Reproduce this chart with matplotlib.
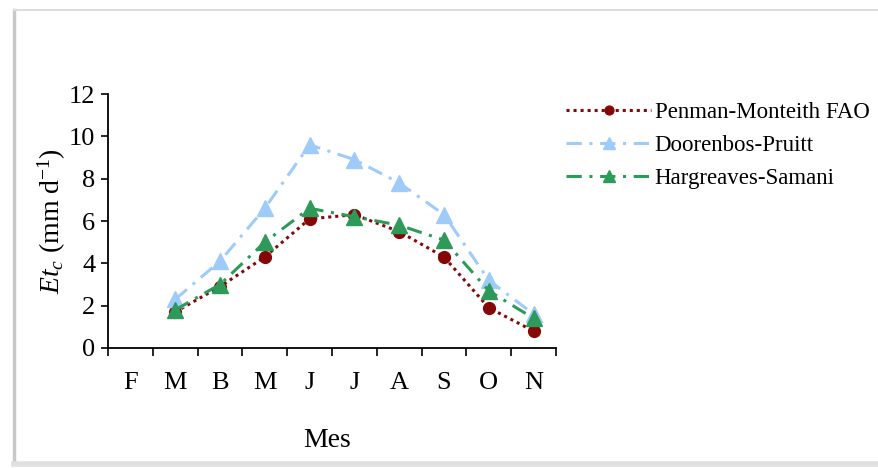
import matplotlib
matplotlib.use("Agg")
import matplotlib.pyplot as plt
from matplotlib.lines import Line2D

plt.rcParams["font.family"] = ["Liberation Serif", "DejaVu Serif"]
plt.rcParams["mathtext.fontset"] = "custom"
plt.rcParams["mathtext.rm"] = "Liberation Serif"
plt.rcParams["mathtext.it"] = "Liberation Serif:italic"

months = ["F", "M", "B", "M", "J", "J", "A", "S", "O", "N"]
data_months = [1, 2, 3, 4, 5, 6, 7, 8, 9]  # index into months (no value for F)

penman = [1.7, 2.9, 4.3, 6.1, 6.3, 5.5, 4.3, 1.9, 0.8]
doorenbos = [2.3, 4.1, 6.6, 9.6, 8.9, 7.8, 6.3, 3.2, 1.6]
hargreaves = [1.8, 3.0, 5.0, 6.6, 6.2, 5.8, 5.1, 2.7, 1.4]

fig = plt.figure(figsize=(8.79, 4.68), dpi=100)
ax = fig.add_axes([108 / 879, 1 - 348 / 468, 448 / 879, 254 / 468])

ax.plot(data_months, penman, color="#850808", ls=(0, (1, 1.3)), lw=2.2,
        marker="o", ms=8.5, label="Penman-Monteith FAO")
ax.plot(data_months, doorenbos, color="#9fcbfa", ls=(0, (5, 2.5, 1, 2.5)), lw=2.2,
        marker="^", ms=11, label="Doorenbos-Pruitt")
ax.plot(data_months, hargreaves, color="#2e9a5a", ls=(0, (5, 2.5, 1, 2.5)), lw=2.2,
        marker="^", ms=11, label="Hargreaves-Samani")

ax.set_xlim(-0.5, len(months) - 0.5)
ax.set_ylim(0, 12)
ax.set_yticks(range(0, 13, 2))
ax.set_xticks([i - 0.5 for i in range(len(months) + 1)])
ax.set_xticklabels([])
ax.set_xticks(range(len(months)), minor=True)
ax.set_xticklabels(months, minor=True)
ax.tick_params(axis="x", which="major", direction="out", length=6, width=1.2)
ax.tick_params(axis="x", which="minor", length=0, pad=17, labelsize=19)
ax.tick_params(axis="y", direction="out", length=5, width=1.2, labelsize=19, pad=4)

for s in ["top", "right"]:
    ax.spines[s].set_visible(False)
for s in ["left", "bottom"]:
    ax.spines[s].set_linewidth(1.3)

ax.set_xlabel("Mes", fontsize=20)
ax.xaxis.set_label_coords(0.49, -0.315)
ax.set_ylabel(r"$Et_c$ (mm d$^{\mathregular{-1}}$)", fontsize=20)
ax.yaxis.set_label_coords(-0.09, 0.5)

ax.legend(loc="upper left", bbox_to_anchor=(555 / 879, 1 - 91 / 468),
          bbox_transform=fig.transFigure, frameon=False, fontsize=16.5,
          handlelength=3.7, handletextpad=0.15, labelspacing=0.52, borderpad=0,
          markerscale=0.75)

# screenshot frame
fig.add_artist(Line2D([14 / 879, 14 / 879], [1 - 462 / 468, 1 - 10 / 468],
                      transform=fig.transFigure, color="#c8c8c8", lw=2.5))
fig.add_artist(Line2D([14 / 879, 1], [1 - 10 / 468, 1 - 10 / 468],
                      transform=fig.transFigure, color="#dcdcdc", lw=1.5))
fig.add_artist(Line2D([14 / 879, 1], [1 - 464 / 468, 1 - 464 / 468],
                      transform=fig.transFigure, color="#e0e0e0", lw=4))

fig.savefig("out.png", dpi=100)
